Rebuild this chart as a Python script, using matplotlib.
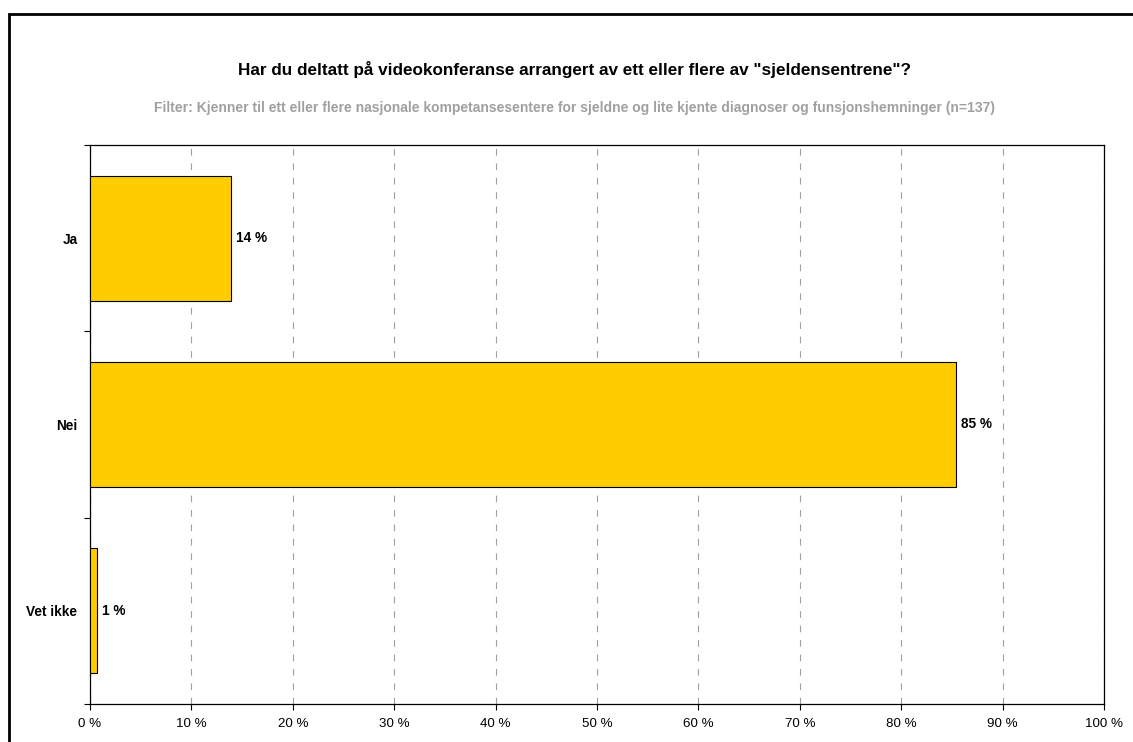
import matplotlib
matplotlib.use("Agg")
import matplotlib.pyplot as plt
from matplotlib.patches import Rectangle

plt.rcParams['font.family'] = ['Liberation Sans', 'DejaVu Sans']

# survey answers, n=137
categories = ["Ja", "Nei", "Vet ikke"]
shares = [13.9, 85.4, 0.7]
xticks = [0, 10, 20, 30, 40, 50, 60, 70, 80, 90, 100]

title = 'Har du deltatt på videokonferanse arrangert av ett eller flere av "sjeldensentrene"?'
subtitle = ("Filter: Kjenner til ett eller flere nasjonale kompetansesentere for sjeldne og "
            "lite kjente diagnoser og funsjonshemninger (n=137)")

W, H = 1133, 742
fig = plt.figure(figsize=(W / 100, H / 100), dpi=100)
ax = fig.add_axes([90 / W, 38 / H, 1014 / W, 559 / H])

ypos = list(range(len(categories)))
ax.barh(ypos, shares, height=0.67, color="#FFCC00", edgecolor="black", linewidth=0.8, zorder=3)

for y, v in zip(ypos, shares):
    ax.text(v + 0.45, y, f"{v:.0f} %", va="center", ha="left",
            fontsize=9.8, fontweight="bold", zorder=4)

ax.set_xlim(0, 100)
ax.set_ylim(2.5, -0.5)
ax.set_xticks(xticks)
ax.set_xticklabels([f"{t} %" for t in xticks], fontsize=9.6)
ax.set_yticks(ypos)
ax.set_yticklabels(categories, fontsize=9.8, fontweight="bold")
ax.tick_params(axis="y", which="major", length=0, pad=9)
ax.set_yticks([-0.5, 0.5, 1.5, 2.5], minor=True)
ax.tick_params(axis="y", which="minor", length=4, width=0.8, direction="out")
ax.tick_params(axis="x", length=4, width=0.8, direction="out", pad=6)

ax.xaxis.grid(True, linestyle=(0, (6, 7)), color="#A0A0A0", linewidth=0.8, zorder=0)
for s in ax.spines.values():
    s.set_linewidth(0.9)

fig.text(574 / W, 1 - 70 / H, title, ha="center", va="center",
         fontsize=12.3, fontweight="bold")
fig.text(574 / W, 1 - 108 / H, subtitle, ha="center", va="center",
         fontsize=10, fontweight="bold", color="#A0A0A0")

# outer frame, running off the right and bottom edges
fig.patches.append(Rectangle((8.5 / W, -0.1), 1.2, 1 - 13.5 / H + 0.1,
                             transform=fig.transFigure, fill=False,
                             edgecolor="black", linewidth=2))

fig.savefig("out.png", dpi=100)
